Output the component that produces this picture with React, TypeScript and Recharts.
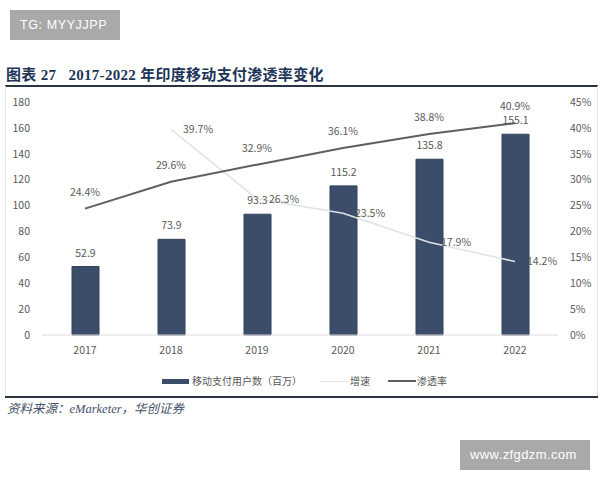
import React from "react";
import {
  ComposedChart,
  Bar,
  Line,
  XAxis,
  YAxis,
  LabelList,
} from "recharts";

const years = ["2017", "2018", "2019", "2020", "2021", "2022"];
const users = [52.9, 73.9, 93.3, 115.2, 135.8, 155.1];
const growth = [null, 39.7, 26.3, 23.5, 17.9, 14.2];
const penetration = [24.4, 29.6, 32.9, 36.1, 38.8, 40.9];
const leftTicks = [0, 20, 40, 60, 80, 100, 120, 140, 160, 180];
const rightTicks = [0, 5, 10, 15, 20, 25, 30, 35, 40, 45];

const data = years.map((year, i) => ({
  year,
  users: users[i],
  growth: growth[i],
  penetration: penetration[i],
}));

const sans = "'Noto Sans CJK SC', 'Liberation Sans', sans-serif";
const serif = "'Liberation Serif', 'Noto Sans CJK SC', serif";
const textColor = "#595959";
const barColor = "#3c4d69";
const growthColor = "#dfe3e8";
const penColor = "#5f5f63";

const pct = (v: any) => (v == null ? "" : `${v}%`);

function ChartLegend() {
  return (
    <div style={{ position: "absolute", left: 0, top: 372, width: 600, height: 18, fontFamily: sans, fontSize: 10, color: textColor }}>
      <div style={{ position: "absolute", left: 162, top: 7, width: 27, height: 5, background: barColor }} />
      <div style={{ position: "absolute", left: 192, top: 1 }}>移动支付用户数（百万）</div>
      <div style={{ position: "absolute", left: 320, top: 9, width: 28, height: 1, background: growthColor }} />
      <div style={{ position: "absolute", left: 350, top: 1 }}>增速</div>
      <div style={{ position: "absolute", left: 388, top: 8, width: 28, height: 2, background: penColor }} />
      <div style={{ position: "absolute", left: 417, top: 1 }}>渗透率</div>
    </div>
  );
}

export default function App() {
  return (
    <div style={{ position: "absolute", left: 0, top: 0, width: 600, height: 480, background: "#fff", overflow: "hidden" }}>
      <div style={{ position: "absolute", left: 10, top: 10, width: 110, height: 30, background: "#a9a9a9", color: "#fff", fontFamily: "'Liberation Sans', sans-serif", fontSize: 12.5, letterSpacing: 0.6, lineHeight: "30px", paddingLeft: 10, boxSizing: "border-box", whiteSpace: "nowrap" }}>
        TG: MYYJJPP
      </div>
      <div style={{ position: "absolute", left: 6, top: 63, fontFamily: serif, fontWeight: 700, fontSize: 15, letterSpacing: 0.3, color: "#1d3557", whiteSpace: "nowrap" }}>
        图表 27&nbsp;&nbsp;&nbsp;2017-2022 年印度移动支付渗透率变化
      </div>
      <div style={{ position: "absolute", left: 5, top: 85, width: 593, height: 1.5, background: "#2b3442" }} />
      <div style={{ position: "absolute", left: 5, top: 86, width: 1, height: 311, background: "#e6e6e6" }} />
      <div style={{ position: "absolute", left: 597, top: 86, width: 1, height: 311, background: "#e6e6e6" }} />

      <div style={{ position: "absolute", left: 0, top: 0 }}>
        <ComposedChart
          width={600}
          height={480}
          data={data}
          margin={{ top: 102, right: 0, bottom: 105, left: 0 }}
        >
          <XAxis
            dataKey="year"
            tickLine={false}
            axisLine={{ stroke: "#dcdcdc" }}
            tick={{ fill: textColor, fontSize: 10.5, fontFamily: sans }}
            tickMargin={6}
            height={40}
          />
          <YAxis
            yAxisId="left"
            domain={[0, 180]}
            ticks={leftTicks}
            width={42}
            tickLine={false}
            axisLine={false}
            tick={{ fill: textColor, fontSize: 10.5, fontFamily: sans }}
            tickMargin={6}
          />
          <YAxis
            yAxisId="right"
            orientation="right"
            domain={[0, 45]}
            ticks={rightTicks}
            tickFormatter={pct}
            width={42}
            tickLine={false}
            axisLine={false}
            tick={{ fill: textColor, fontSize: 10.5, fontFamily: sans }}
            tickMargin={6}
          />
          <Bar yAxisId="left" dataKey="users" barSize={27} fill={barColor} stroke="#33415a" isAnimationActive={false}>
            <LabelList dataKey="users" position="top" offset={10} fill={textColor} fontSize={10.5} fontFamily={sans} />
          </Bar>
          <Line yAxisId="right" dataKey="growth" type="linear" stroke={growthColor} strokeWidth={1.5} dot={false} isAnimationActive={false}>
            <LabelList dataKey="growth" position="right" offset={12} formatter={pct} fill={textColor} fontSize={10.5} fontFamily={sans} />
          </Line>
          <Line yAxisId="right" dataKey="penetration" type="linear" stroke={penColor} strokeWidth={2} dot={false} isAnimationActive={false}>
            <LabelList dataKey="penetration" position="top" offset={13} formatter={pct} fill={textColor} fontSize={10.5} fontFamily={sans} />
          </Line>
        </ComposedChart>
      </div>

      <ChartLegend />
      <div style={{ position: "absolute", left: 5, top: 396, width: 593, height: 2, background: "#2b3442" }} />
      <div style={{ position: "absolute", left: 7, top: 398, fontFamily: serif, fontStyle: "italic", fontSize: 12.5, color: "#44506a", whiteSpace: "nowrap" }}>
        资料来源：eMarketer，华创证券
      </div>
      <div style={{ position: "absolute", left: 460, top: 440, width: 130, height: 30, background: "#a9a9a9", color: "#fff", fontFamily: "'Liberation Sans', sans-serif", fontSize: 13, letterSpacing: 0.4, lineHeight: "30px", paddingLeft: 10, boxSizing: "border-box", whiteSpace: "nowrap" }}>
        www.zfgdzm.com
      </div>
    </div>
  );
}
